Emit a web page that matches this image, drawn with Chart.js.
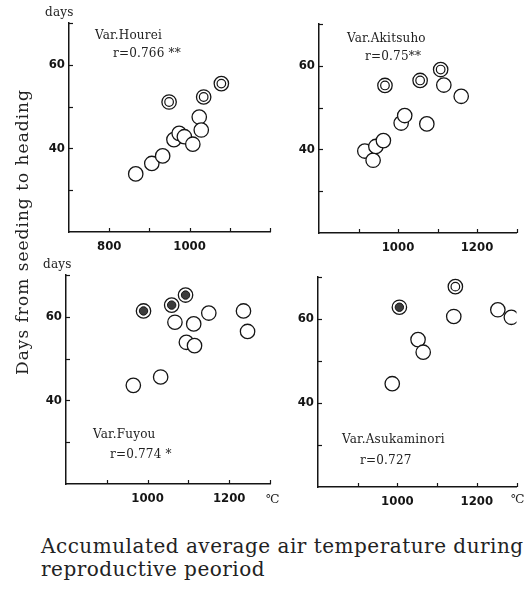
<!DOCTYPE html>
<html>
<head>
<meta charset="utf-8">
<script src="https://cdn.jsdelivr.net/npm/chart.js@4.4.1/dist/chart.umd.min.js"></script>
<style>
  body { margin: 0; background: #fff; }
  #wrap { position: relative; width: 525px; height: 590px; overflow: hidden; font-family: 'DejaVu Serif', serif; color: #222; }
  canvas { position: absolute; }
  .t { position: absolute; white-space: nowrap; line-height: 1; }
  .note { font-size: 12px; letter-spacing: 0.2px; }
</style>
</head>
<body>
<div id="wrap">
  <canvas id="c1" width="280" height="260" style="left:0;top:0"></canvas>
  <canvas id="c2" width="245" height="260" style="left:280px;top:0"></canvas>
  <canvas id="c3" width="280" height="260" style="left:0;top:255px"></canvas>
  <canvas id="c4" width="245" height="260" style="left:280px;top:255px"></canvas>

  <div class="t note" style="left:45px;top:6px">days</div>
  <div class="t note" style="left:43px;top:258px">days</div>

  <div class="t note" style="left:95px;top:29px">Var.Hourei</div>
  <div class="t note" style="left:113px;top:47px">r=0.766 **</div>
  <div class="t note" style="left:347px;top:32px">Var.Akitsuho</div>
  <div class="t note" style="left:365px;top:50px">r=0.75**</div>
  <div class="t note" style="left:93px;top:428px">Var.Fuyou</div>
  <div class="t note" style="left:110px;top:448px">r=0.774 *</div>
  <div class="t note" style="left:342px;top:433px">Var.Asukaminori</div>
  <div class="t note" style="left:360px;top:454px">r=0.727</div>

  <div class="t" style="left:266px;top:493px;font-size:12px">℃</div>
  <div class="t" style="left:511px;top:493px;font-size:12px">℃</div>

  <div class="t" style="left:22px;top:232px;font-size:17px;letter-spacing:1px;transform:translate(-50%,-50%) rotate(-90deg)">Days from seeding to heading</div>
  <div class="t" style="left:41px;top:535px;font-size:20px;letter-spacing:0.5px;line-height:23px">Accumulated average air temperature during<br>reproductive peoriod</div>
</div>

<script>
// Var.Hourei (open circles / double circles)
const houreiTemp = [866, 906, 933, 961, 974, 987, 1008, 1024, 1029];
const houreiDays = [33.9, 36.4, 38.2, 42.1, 43.6, 42.8, 41.0, 47.5, 44.4];
const houreiDblTemp = [949, 1035, 1079];
const houreiDblDays = [51.1, 52.3, 55.5];

// Var.Akitsuho
const akitsuhoTemp = [916, 937, 944, 963, 1008, 1017, 1073, 1116, 1160];
const akitsuhoDays = [39.6, 37.4, 40.7, 42.1, 46.3, 48.1, 46.1, 55.4, 52.7];
const akitsuhoDblTemp = [967, 1056, 1108];
const akitsuhoDblDays = [55.3, 56.5, 59.1];

// Var.Fuyou
const fuyouTemp = [965, 1032, 1067, 1113, 1150, 1095, 1115, 1235, 1245];
const fuyouDays = [43.6, 45.6, 58.7, 58.3, 60.9, 53.9, 53.1, 61.4, 56.5];
const fuyouDotTemp = [990, 1059, 1093];
const fuyouDotDays = [61.4, 62.8, 65.2];

// Var.Asukaminori
const asukaTemp = [987, 1052, 1065, 1142, 1253, 1287];
const asukaDays = [44.6, 55.1, 52.1, 60.6, 62.2, 60.4];
const asukaDotTemp = [1005];
const asukaDotDays = [62.8];
const asukaDblTemp = [1146];
const asukaDblDays = [67.7];

// tick labels shown on each axis
const yLabels = [40, 60];
const xLabelsTop1 = [800, 1000];
const xLabelsOther = [1000, 1200];

const ink = '#151515';

function pts(xs, ys) {
  return xs.map((x, i) => ({ x: x, y: ys[i] }));
}

// outer ring, drawn below the inner marks (higher order = drawn first)
function ringSet(data) {
  return { data: data, order: 2, pointStyle: 'circle', pointRadius: 7.2, borderWidth: 1.3,
           borderColor: ink, backgroundColor: '#fff' };
}
// inner ring of the double circle
function innerRing(data) {
  return { data: data, order: 1, pointStyle: 'circle', pointRadius: 4.3, borderWidth: 1.2,
           borderColor: ink, backgroundColor: 'rgba(0,0,0,0)' };
}
// dark centre of the ringed dot
function innerDot(data) {
  return { data: data, order: 1, pointStyle: 'circle', pointRadius: 4.2, borderWidth: 1,
           borderColor: ink, backgroundColor: '#3c3c3c' };
}

// short tick marks pointing inwards
const inTicks = {
  id: 'inTicks',
  afterDraw(chart) {
    const { ctx, scales: { x, y } } = chart;
    ctx.save();
    ctx.strokeStyle = ink;
    ctx.lineWidth = 1.2;
    x.ticks.forEach(t => {
      if (t.value === x.min) return;
      const px = Math.round(x.getPixelForValue(t.value)) + 0.5;
      ctx.beginPath(); ctx.moveTo(px, x.top); ctx.lineTo(px, x.top - 4); ctx.stroke();
    });
    y.ticks.forEach(t => {
      if (t.value === y.min) return;
      const py = Math.round(y.getPixelForValue(t.value)) + 0.5;
      ctx.beginPath(); ctx.moveTo(y.right, py); ctx.lineTo(y.right + 4, py); ctx.stroke();
    });
    ctx.restore();
  }
};

const tickFont = { family: "'Liberation Sans Narrow', 'DejaVu Sans Condensed', sans-serif", size: 13, weight: 'bold' };

function panel(id, datasets, xMin, xMax, xLabels, box) {
  new Chart(document.getElementById(id), {
    type: 'scatter',
    data: { datasets: datasets },
    options: {
      responsive: false,
      animation: false,
      events: [],
      layout: { padding: { top: box.top, right: box.right, left: 0, bottom: 0 } },
      plugins: { legend: { display: false }, tooltip: { enabled: false } },
      scales: {
        x: {
          type: 'linear', min: xMin, max: xMax,
          grid: { display: false, drawTicks: false },
          border: { color: ink, width: 1.5 },
          ticks: {
            stepSize: 100, autoSkip: false, maxRotation: 0, padding: 7,
            color: ink, font: tickFont,
            callback: v => xLabels.includes(v) ? String(v) : ''
          },
          afterFit: s => { s.height = box.xh; }
        },
        y: {
          type: 'linear', min: 20, max: 70,
          grid: { display: false, drawTicks: false },
          border: { color: ink, width: 1.5 },
          ticks: {
            stepSize: 10, autoSkip: false, padding: 4,
            color: ink, font: tickFont,
            callback: v => yLabels.includes(v) ? String(v) : ''
          },
          afterFit: s => { s.width = box.yw; }
        }
      }
    },
    plugins: [inTicks]
  });
}

const hDbl = pts(houreiDblTemp, houreiDblDays);
panel('c1', [
  ringSet(pts(houreiTemp, houreiDays)),
  ringSet(hDbl), innerRing(hDbl)
], 700, 1200, xLabelsTop1, { top: 23, right: 10, yw: 69, xh: 28 });

const aDbl = pts(akitsuhoDblTemp, akitsuhoDblDays);
panel('c2', [
  ringSet(pts(akitsuhoTemp, akitsuhoDays)),
  ringSet(aDbl), innerRing(aDbl)
], 800, 1300, xLabelsOther, { top: 24, right: 2, yw: 39, xh: 27 });

const fDot = pts(fuyouDotTemp, fuyouDotDays);
panel('c3', [
  ringSet(pts(fuyouTemp, fuyouDays)),
  ringSet(fDot), innerDot(fDot)
], 800, 1300, xLabelsOther, { top: 20, right: 10, yw: 66, xh: 31 });

const sDot = pts(asukaDotTemp, asukaDotDays);
const sDbl = pts(asukaDblTemp, asukaDblDays);
panel('c4', [
  ringSet(pts(asukaTemp, asukaDays)),
  ringSet(sDot), innerDot(sDot),
  ringSet(sDbl), innerRing(sDbl)
], 800, 1300, xLabelsOther, { top: 22, right: 5, yw: 38, xh: 28 });
</script>
</body>
</html>
